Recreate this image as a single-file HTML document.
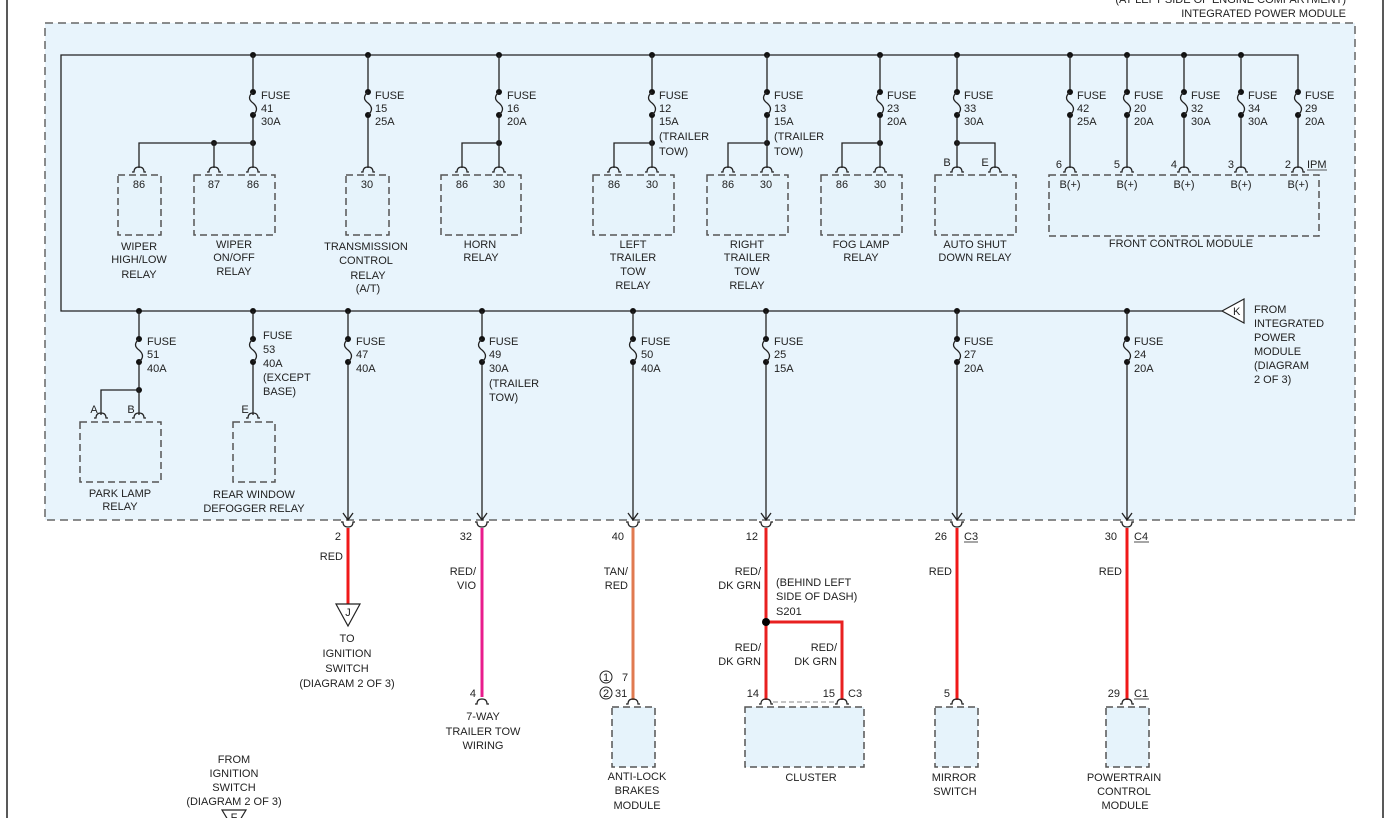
<!DOCTYPE html>
<html><head><meta charset="utf-8"><style>
html,body{margin:0;padding:0;background:#fff;width:1386px;height:818px;overflow:hidden}
svg{display:block}
text{font-family:"Liberation Sans",sans-serif;font-size:11px;fill:#222}
.c{text-anchor:middle}.r{text-anchor:end}
.w{stroke:#222;stroke-width:1.3;fill:none}
.b{fill:#e6f3fb;stroke:#555;stroke-width:1.5;stroke-dasharray:7 4}
.p{fill:none;stroke:#222;stroke-width:1.2}
</style></head><body>
<svg width="1386" height="818" viewBox="0 0 1386 818">
<defs>
<g id="fu"><circle cx="0" cy="0" r="3" fill="#111"/><circle cx="0" cy="23" r="3" fill="#111"/><path d="M0 0 q-7 6 0 11 q7 6 0 12" class="w"/></g>
<g id="pn"><path d="M-7 2 h2 q0 -5 5 -5 q5 0 5 5 h2" class="p"/></g>
<g id="pd"><path d="M-7 -2 h2 q0 5 5 5 q5 0 5 -5 h2" class="p"/></g>
</defs>
<line x1="7" y1="0" x2="7" y2="818" stroke="#222" stroke-width="1.5"/>
<line x1="1383" y1="0" x2="1383" y2="818" stroke="#222" stroke-width="1.5"/>
<rect x="45" y="23" width="1310" height="497" fill="#e8f4fc" stroke="#666" stroke-width="1.5" stroke-dasharray="8 5"/>
<text x="1346" y="3" class="r">(AT LEFT SIDE OF ENGINE COMPARTMENT)</text>
<text x="1346" y="17" class="r">INTEGRATED POWER MODULE</text>

<!-- buses -->
<path class="w" d="M1298 92 V55 H61 V311 H1222"/>
<g fill="#111">
<circle cx="253" cy="55" r="3"/><circle cx="368" cy="55" r="3"/><circle cx="499" cy="55" r="3"/><circle cx="652" cy="55" r="3"/><circle cx="767" cy="55" r="3"/><circle cx="880" cy="55" r="3"/><circle cx="957" cy="55" r="3"/><circle cx="1070" cy="55" r="3"/><circle cx="1127" cy="55" r="3"/><circle cx="1184" cy="55" r="3"/><circle cx="1241" cy="55" r="3"/>
<circle cx="139" cy="311" r="3"/><circle cx="253" cy="311" r="3"/><circle cx="348" cy="311" r="3"/><circle cx="482" cy="311" r="3"/><circle cx="633" cy="311" r="3"/><circle cx="766" cy="311" r="3"/><circle cx="957" cy="311" r="3"/><circle cx="1127" cy="311" r="3"/>
<circle cx="253" cy="143" r="3"/><circle cx="214" cy="143" r="3"/><circle cx="499" cy="143" r="3"/><circle cx="652" cy="143" r="3"/><circle cx="767" cy="143" r="3"/><circle cx="880" cy="143" r="3"/><circle cx="957" cy="143" r="3"/><circle cx="139" cy="390" r="3"/>
</g>
<!-- top fuse wires -->
<path class="w" d="M253 55V92M253 115V168M253 143H139V168M214 143V168
M368 55V92M368 115V168
M499 55V92M499 115V168M499 143H462V168
M652 55V92M652 115V168M652 143H614V168
M767 55V92M767 115V168M767 143H728V168
M880 55V92M880 115V168M880 143H842V168
M957 55V92M957 115V168M957 143H995V168
M1070 55V92M1070 115V168M1127 55V92M1127 115V168M1184 55V92M1184 115V168M1241 55V92M1241 115V168M1298 115V168"/>
<use href="#fu" x="253" y="92"/><use href="#fu" x="368" y="92"/><use href="#fu" x="499" y="92"/><use href="#fu" x="652" y="92"/><use href="#fu" x="767" y="92"/><use href="#fu" x="880" y="92"/><use href="#fu" x="957" y="92"/><use href="#fu" x="1070" y="92"/><use href="#fu" x="1127" y="92"/><use href="#fu" x="1184" y="92"/><use href="#fu" x="1241" y="92"/><use href="#fu" x="1298" y="92"/>
<g>
<text x="261" y="99">FUSE</text><text x="261" y="112">41</text><text x="261" y="125">30A</text>
<text x="375" y="99">FUSE</text><text x="375" y="112">15</text><text x="375" y="125">25A</text>
<text x="507" y="99">FUSE</text><text x="507" y="112">16</text><text x="507" y="125">20A</text>
<text x="659" y="99">FUSE</text><text x="659" y="112">12</text><text x="659" y="125">15A</text><text x="659" y="140">(TRAILER</text><text x="659" y="155">TOW)</text>
<text x="774" y="99">FUSE</text><text x="774" y="112">13</text><text x="774" y="125">15A</text><text x="774" y="140">(TRAILER</text><text x="774" y="155">TOW)</text>
<text x="887" y="99">FUSE</text><text x="887" y="112">23</text><text x="887" y="125">20A</text>
<text x="964" y="99">FUSE</text><text x="964" y="112">33</text><text x="964" y="125">30A</text>
<text x="1077" y="99">FUSE</text><text x="1077" y="112">42</text><text x="1077" y="125">25A</text>
<text x="1134" y="99">FUSE</text><text x="1134" y="112">20</text><text x="1134" y="125">20A</text>
<text x="1191" y="99">FUSE</text><text x="1191" y="112">32</text><text x="1191" y="125">30A</text>
<text x="1248" y="99">FUSE</text><text x="1248" y="112">34</text><text x="1248" y="125">30A</text>
<text x="1305" y="99">FUSE</text><text x="1305" y="112">29</text><text x="1305" y="125">20A</text>
</g>
<!-- top relay boxes -->
<rect class="b" x="118" y="175" width="43" height="60"/>
<rect class="b" x="194" y="175" width="81" height="60"/>
<rect class="b" x="346" y="175" width="43" height="60"/>
<rect class="b" x="441" y="175" width="80" height="60"/>
<rect class="b" x="593" y="175" width="81" height="60"/>
<rect class="b" x="707" y="175" width="81" height="60"/>
<rect class="b" x="821" y="175" width="81" height="60"/>
<rect class="b" x="935" y="175" width="81" height="60"/>
<rect class="b" x="1049" y="175" width="270" height="61"/>
<g>
<use href="#pn" x="139" y="170"/><use href="#pn" x="214" y="170"/><use href="#pn" x="253" y="170"/><use href="#pn" x="368" y="170"/><use href="#pn" x="462" y="170"/><use href="#pn" x="499" y="170"/><use href="#pn" x="614" y="170"/><use href="#pn" x="652" y="170"/><use href="#pn" x="728" y="170"/><use href="#pn" x="767" y="170"/><use href="#pn" x="842" y="170"/><use href="#pn" x="880" y="170"/><use href="#pn" x="957" y="170"/><use href="#pn" x="995" y="170"/><use href="#pn" x="1070" y="170"/><use href="#pn" x="1127" y="170"/><use href="#pn" x="1184" y="170"/><use href="#pn" x="1241" y="170"/><use href="#pn" x="1298" y="170"/>
</g>
<g class="c">
<text x="139" y="188">86</text><text x="214" y="188">87</text><text x="253" y="188">86</text><text x="367" y="188">30</text><text x="462" y="188">86</text><text x="499" y="188">30</text><text x="614" y="188">86</text><text x="652" y="188">30</text><text x="728" y="188">86</text><text x="766" y="188">30</text><text x="842" y="188">86</text><text x="880" y="188">30</text>
<text x="1070" y="188">B(+)</text><text x="1127" y="188">B(+)</text><text x="1184" y="188">B(+)</text><text x="1241" y="188">B(+)</text><text x="1298" y="188">B(+)</text>
<text x="139" y="250">WIPER</text><text x="139" y="263">HIGH/LOW</text><text x="139" y="278">RELAY</text>
<text x="234" y="248">WIPER</text><text x="234" y="261">ON/OFF</text><text x="234" y="275">RELAY</text>
<text x="366" y="250">TRANSMISSION</text><text x="366" y="264">CONTROL</text><text x="368" y="279">RELAY</text><text x="368" y="292">(A/T)</text>
<text x="480" y="248">HORN</text><text x="481" y="261">RELAY</text>
<text x="633" y="248">LEFT</text><text x="633" y="261">TRAILER</text><text x="633" y="275">TOW</text><text x="633" y="289">RELAY</text>
<text x="747" y="248">RIGHT</text><text x="747" y="261">TRAILER</text><text x="747" y="275">TOW</text><text x="747" y="289">RELAY</text>
<text x="861" y="248">FOG LAMP</text><text x="861" y="261">RELAY</text>
<text x="975" y="248">AUTO SHUT</text><text x="975" y="261">DOWN RELAY</text>
<text x="1181" y="247">FRONT CONTROL MODULE</text>
</g>
<text x="947" y="166" class="c">B</text><text x="985" y="166" class="c">E</text>
<text x="1062" y="168" class="r">6</text><text x="1120" y="168" class="r">5</text><text x="1177" y="168" class="r">4</text><text x="1234" y="168" class="r">3</text><text x="1291" y="168" class="r">2</text>
<text x="1307" y="168">IPM</text><line x1="1307" y1="170" x2="1327" y2="170" stroke="#222" stroke-width="0.8"/>

<!-- K -->
<polygon points="1222,311 1244,299 1244,323" fill="#fff" stroke="#222" stroke-width="1.2"/>
<text x="1233" y="315">K</text>
<text x="1254" y="313">FROM</text><text x="1254" y="327">INTEGRATED</text><text x="1254" y="341">POWER</text><text x="1254" y="355">MODULE</text><text x="1254" y="369">(DIAGRAM</text><text x="1254" y="383">2 OF 3)</text>

<!-- lower fuses -->
<path class="w" d="M139 311V338M139 362V415M139 390H101V415M253 311V338M253 362V415
M348 311V338M348 362V520M482 311V338M482 362V520M633 311V338M633 362V520M766 311V338M766 362V520M957 311V338M957 362V520M1127 311V338M1127 362V520
M343 513L348 520L353 513M477 513L482 520L487 513M628 513L633 520L638 513M761 513L766 520L771 513M952 513L957 520L962 513M1122 513L1127 520L1132 513"/>
<use href="#fu" x="139" y="339"/><use href="#fu" x="253" y="339"/><use href="#fu" x="348" y="339"/><use href="#fu" x="482" y="339"/><use href="#fu" x="633" y="339"/><use href="#fu" x="766" y="339"/><use href="#fu" x="957" y="339"/><use href="#fu" x="1127" y="339"/>
<g>
<text x="147" y="345">FUSE</text><text x="147" y="358">51</text><text x="147" y="372">40A</text>
<text x="263" y="339">FUSE</text><text x="263" y="353">53</text><text x="263" y="367">40A</text><text x="263" y="381">(EXCEPT</text><text x="263" y="395">BASE)</text>
<text x="356" y="345">FUSE</text><text x="356" y="358">47</text><text x="356" y="372">40A</text>
<text x="489" y="345">FUSE</text><text x="489" y="358">49</text><text x="489" y="372">30A</text><text x="489" y="387">(TRAILER</text><text x="489" y="401">TOW)</text>
<text x="641" y="345">FUSE</text><text x="641" y="358">50</text><text x="641" y="372">40A</text>
<text x="774" y="345">FUSE</text><text x="774" y="358">25</text><text x="774" y="372">15A</text>
<text x="964" y="345">FUSE</text><text x="964" y="358">27</text><text x="964" y="372">20A</text>
<text x="1134" y="345">FUSE</text><text x="1134" y="358">24</text><text x="1134" y="372">20A</text>
</g>
<rect class="b" x="80" y="422" width="81" height="60"/>
<rect class="b" x="233" y="422" width="42" height="60"/>
<use href="#pn" x="101" y="416"/><use href="#pn" x="139" y="416"/><use href="#pn" x="253" y="416"/>
<text x="94" y="413" class="c">A</text><text x="131" y="413" class="c">B</text><text x="245" y="413" class="c">E</text>
<g class="c">
<text x="120" y="497">PARK LAMP</text><text x="120" y="510">RELAY</text>
<text x="254" y="498">REAR WINDOW</text><text x="254" y="512">DEFOGGER RELAY</text>
</g>

<!-- connector arcs at box edge -->
<use href="#pd" x="348" y="524"/><use href="#pd" x="482" y="524"/><use href="#pd" x="633" y="524"/><use href="#pd" x="766" y="524"/><use href="#pd" x="957" y="524"/><use href="#pd" x="1127" y="524"/>
<text x="341" y="540" class="r">2</text><text x="472" y="540" class="r">32</text><text x="624" y="540" class="r">40</text><text x="758" y="540" class="r">12</text><text x="947" y="540" class="r">26</text><text x="1117" y="540" class="r">30</text>
<text x="964" y="540">C3</text><line x1="964" y1="542" x2="978" y2="542" stroke="#222" stroke-width="0.8"/>
<text x="1134" y="540">C4</text><line x1="1134" y1="542" x2="1149" y2="542" stroke="#222" stroke-width="0.8"/>

<!-- wires -->
<g stroke-width="3" fill="none">
<path d="M348 528V604" stroke="#f01818"/>
<path d="M482 528V697" stroke="#e81c8c"/>
<path d="M633 528V700" stroke="#e07a50"/>
<path d="M766 528V700M766 622H842V700" stroke="#e82020"/>
<path d="M957 528V700" stroke="#f01818"/>
<path d="M1127 528V700" stroke="#f01818"/>
</g>
<circle cx="766" cy="622" r="4" fill="#000"/>
<text x="343" y="560" class="r">RED</text>
<text x="476" y="575" class="r">RED/</text><text x="476" y="589" class="r">VIO</text>
<text x="628" y="575" class="r">TAN/</text><text x="628" y="589" class="r">RED</text>
<text x="761" y="575" class="r">RED/</text><text x="761" y="589" class="r">DK GRN</text>
<text x="776" y="586">(BEHIND LEFT</text><text x="776" y="600">SIDE OF DASH)</text><text x="776" y="615">S201</text>
<text x="761" y="651" class="r">RED/</text><text x="761" y="665" class="r">DK GRN</text>
<text x="837" y="651" class="r">RED/</text><text x="837" y="665" class="r">DK GRN</text>
<text x="952" y="575" class="r">RED</text><text x="1122" y="575" class="r">RED</text>

<polygon points="336,604 360,604 348,626" fill="#fff" stroke="#222" stroke-width="1.2"/>
<text x="348" y="616" class="c">J</text>
<g class="c"><text x="347" y="642">TO</text><text x="347" y="657">IGNITION</text><text x="347" y="672">SWITCH</text><text x="347" y="687">(DIAGRAM 2 OF 3)</text></g>

<use href="#pn" x="482" y="702"/><text x="476" y="697" class="r">4</text>
<g class="c"><text x="483" y="720">7-WAY</text><text x="483" y="735">TRAILER TOW</text><text x="483" y="749">WIRING</text></g>

<use href="#pn" x="633" y="702"/><use href="#pn" x="766" y="702"/><use href="#pn" x="842" y="702"/><use href="#pn" x="957" y="702"/><use href="#pn" x="1127" y="702"/>
<line x1="773" y1="702" x2="835" y2="702" stroke="#888" stroke-dasharray="5 3"/>
<circle cx="606" cy="677" r="6" fill="none" stroke="#222"/><text x="606" y="681" class="c">1</text><text x="622" y="681">7</text>
<circle cx="606" cy="693" r="6" fill="none" stroke="#222"/><text x="606" y="697" class="c">2</text><text x="615" y="697">31</text>
<text x="759" y="697" class="r">14</text><text x="835" y="697" class="r">15</text><text x="848" y="697">C3</text>
<text x="950" y="697" class="r">5</text><text x="1120" y="697" class="r">29</text><text x="1134" y="697">C1</text><line x1="1134" y1="699" x2="1149" y2="699" stroke="#222" stroke-width="0.8"/>

<rect class="b" x="612" y="707" width="43" height="60"/>
<rect class="b" x="745" y="707" width="119" height="60"/>
<rect class="b" x="935" y="707" width="43" height="60"/>
<rect class="b" x="1106" y="707" width="43" height="60"/>
<g class="c">
<text x="637" y="780">ANTI-LOCK</text><text x="637" y="794">BRAKES</text><text x="637" y="809">MODULE</text>
<text x="811" y="781">CLUSTER</text>
<text x="954" y="781">MIRROR</text><text x="955" y="795">SWITCH</text>
<text x="1124" y="781">POWERTRAIN</text><text x="1124" y="795">CONTROL</text><text x="1125" y="809">MODULE</text>
<text x="234" y="763">FROM</text><text x="234" y="777">IGNITION</text><text x="234" y="791">SWITCH</text><text x="234" y="805">(DIAGRAM 2 OF 3)</text>
</g>
<polygon points="222,810 246,810 234,830" fill="#fff" stroke="#222" stroke-width="1.2"/>
<text x="234" y="821" class="c">F</text>
</svg>
</body></html>
